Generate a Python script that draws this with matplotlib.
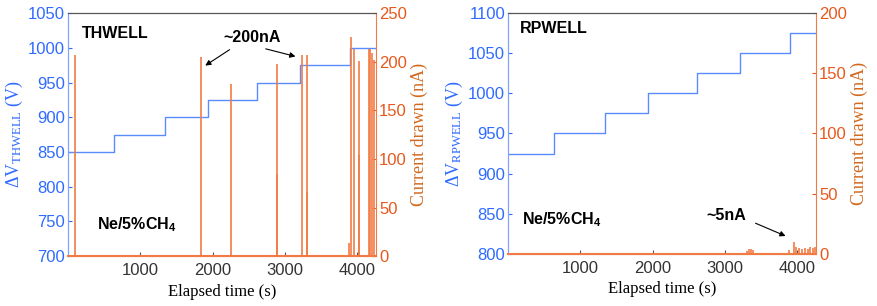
import numpy as np
import matplotlib
matplotlib.use("Agg")
import matplotlib.pyplot as plt

plt.rcParams['font.family'] = ['Liberation Sans', 'DejaVu Sans']
plt.rcParams['mathtext.fontset'] = 'custom'
plt.rcParams['mathtext.rm'] = 'Liberation Serif'
plt.rcParams['mathtext.it'] = 'Liberation Serif:italic'
plt.rcParams['mathtext.bf'] = 'Liberation Sans:bold'

BLUE = '#2f6bff'
LINE_BLUE = '#5a8cff'
ORANGE = '#e8581c'
SPIKE = '#f27b45'
LABEL_OR = '#d2691e'

# voltage steps (s, V)
step_t = [0, 640, 1340, 1930, 2610, 3210, 3900, 4260]
thwell_v = [850, 875, 900, 925, 950, 975, 1000, 1000]
rpwell_v = [925, 950, 975, 1000, 1025, 1050, 1075, 1075]

# current spikes (s, nA)
th_spike_t = [97, 1838, 2259, 2889, 2889, 3236, 3310, 3310, 3880, 3917, 3949, 4019, 4019, 4157, 4180, 4203, 4231]
th_spike_i = [207, 205, 177, 198, 85, 207, 207, 66, 13, 225, 213, 201, 104, 213, 213, 209, 202]
rp_spike_t = [3301, 3338, 3361, 3393, 3880, 3958, 3986, 4018, 4065, 4111, 4143, 4181, 4218, 4246]
rp_spike_i = [2.7, 4.1, 4.1, 3.3, 3.3, 9.7, 6.0, 5.0, 4.5, 5.0, 4.5, 5.5, 5.0, 5.5]

xticks = [1000, 2000, 3000, 4000]


def panel(rect, v, vlim, vticks, spike_t, spike_i, ilim, iticks, name, sub, name_pos):
    ax = fig.add_axes(rect)
    ax.step(step_t, v, where='post', color=LINE_BLUE, lw=1.0)
    ax.set_xlim(0, 4260)
    ax.set_ylim(*vlim)
    ax.set_yticks(vticks)
    ax.set_xticks(xticks)
    ax.tick_params(axis='y', colors=BLUE, labelsize=12, direction='in', length=3, pad=2)
    ax.tick_params(axis='x', colors='#555555', labelcolor='#333333', labelsize=12,
                   direction='in', length=3, pad=5)
    ax.set_xlabel('Elapsed time (s)', family='Liberation Serif', fontsize=12, labelpad=4)
    ax.set_ylabel(r'$\Delta$V$_{\mathrm{%s}}$ (V)' % sub, color=BLUE,
                  family='Liberation Serif', fontsize=13, labelpad=2)
    ax.spines['left'].set_color('#7fa3ff')
    ax.spines['top'].set_color('#555555')
    ax.spines['bottom'].set_color(SPIKE)
    ax.spines['right'].set_visible(False)

    ax2 = ax.twinx()
    ax2.vlines(spike_t, 0, spike_i, color=SPIKE, lw=1.2)
    ax2.set_ylim(*ilim)
    ax2.set_yticks(iticks)
    ax2.tick_params(axis='y', colors=ORANGE, labelsize=12, direction='in', length=3, pad=2)
    ax2.set_ylabel('Current drawn (nA)', color=LABEL_OR, family='Liberation Serif',
                   fontsize=13, labelpad=3)
    ax2.spines['right'].set_color(SPIKE)
    ax2.spines['bottom'].set_color(SPIKE)
    ax2.spines['bottom'].set_linewidth(1.5)
    ax2.spines['top'].set_color('#555555')
    ax2.spines['left'].set_color('#7fa3ff')
    ax2.set_xlim(0, 4260)

    ax2.text(name_pos[0], name_pos[1], name, transform=ax.transAxes, fontsize=11.5,
             fontweight='bold', va='center', ha='left')
    return ax, ax2


fig = plt.figure(figsize=(8.78, 3.06), dpi=100)

a1, b1 = panel([0.0774, 0.163, 0.351, 0.794], thwell_v, (700, 1050),
               [700, 750, 800, 850, 900, 950, 1000, 1050],
               th_spike_t, th_spike_i, (0, 250), [0, 50, 100, 150, 200, 250],
               'THWELL', 'THWELL', (0.045, 0.918))
b1.text(0.094, 0.128, r'Ne/5%CH$_\mathbf{4}$', transform=b1.transAxes, fontsize=11.5,
        fontweight='bold', va='center', ha='left')
b1.text(0.597, 0.90, '~200nA', transform=b1.transAxes, fontsize=11.5,
        fontweight='bold', va='center', ha='center')
for head, tail in [((0.438, 0.778), (0.532, 0.856)), ((0.747, 0.819), (0.633, 0.856))]:
    b1.annotate('', xy=head, xytext=tail, xycoords='axes fraction',
                arrowprops=dict(arrowstyle='-|>', color='black', lw=0.8,
                                mutation_scale=8))

a2, b2 = panel([0.5786, 0.17, 0.351, 0.788], rpwell_v, (800, 1100),
               [800, 850, 900, 950, 1000, 1050, 1100],
               rp_spike_t, rp_spike_i, (0, 200), [0, 50, 100, 150, 200],
               'RPWELL', 'RPWELL', (0.039, 0.935))
b2.text(0.045, 0.14, r'Ne/5%CH$_\mathbf{4}$', transform=b2.transAxes, fontsize=11.5,
        fontweight='bold', va='center', ha='left')
b2.text(0.708, 0.158, '~5nA', transform=b2.transAxes, fontsize=11.5,
        fontweight='bold', va='center', ha='center')
b2.annotate('', xy=(0.909, 0.070), xytext=(0.795, 0.132), xycoords='axes fraction',
            arrowprops=dict(arrowstyle='-|>', color='black', lw=0.8, mutation_scale=8))

fig.savefig('out.png', dpi=100)
